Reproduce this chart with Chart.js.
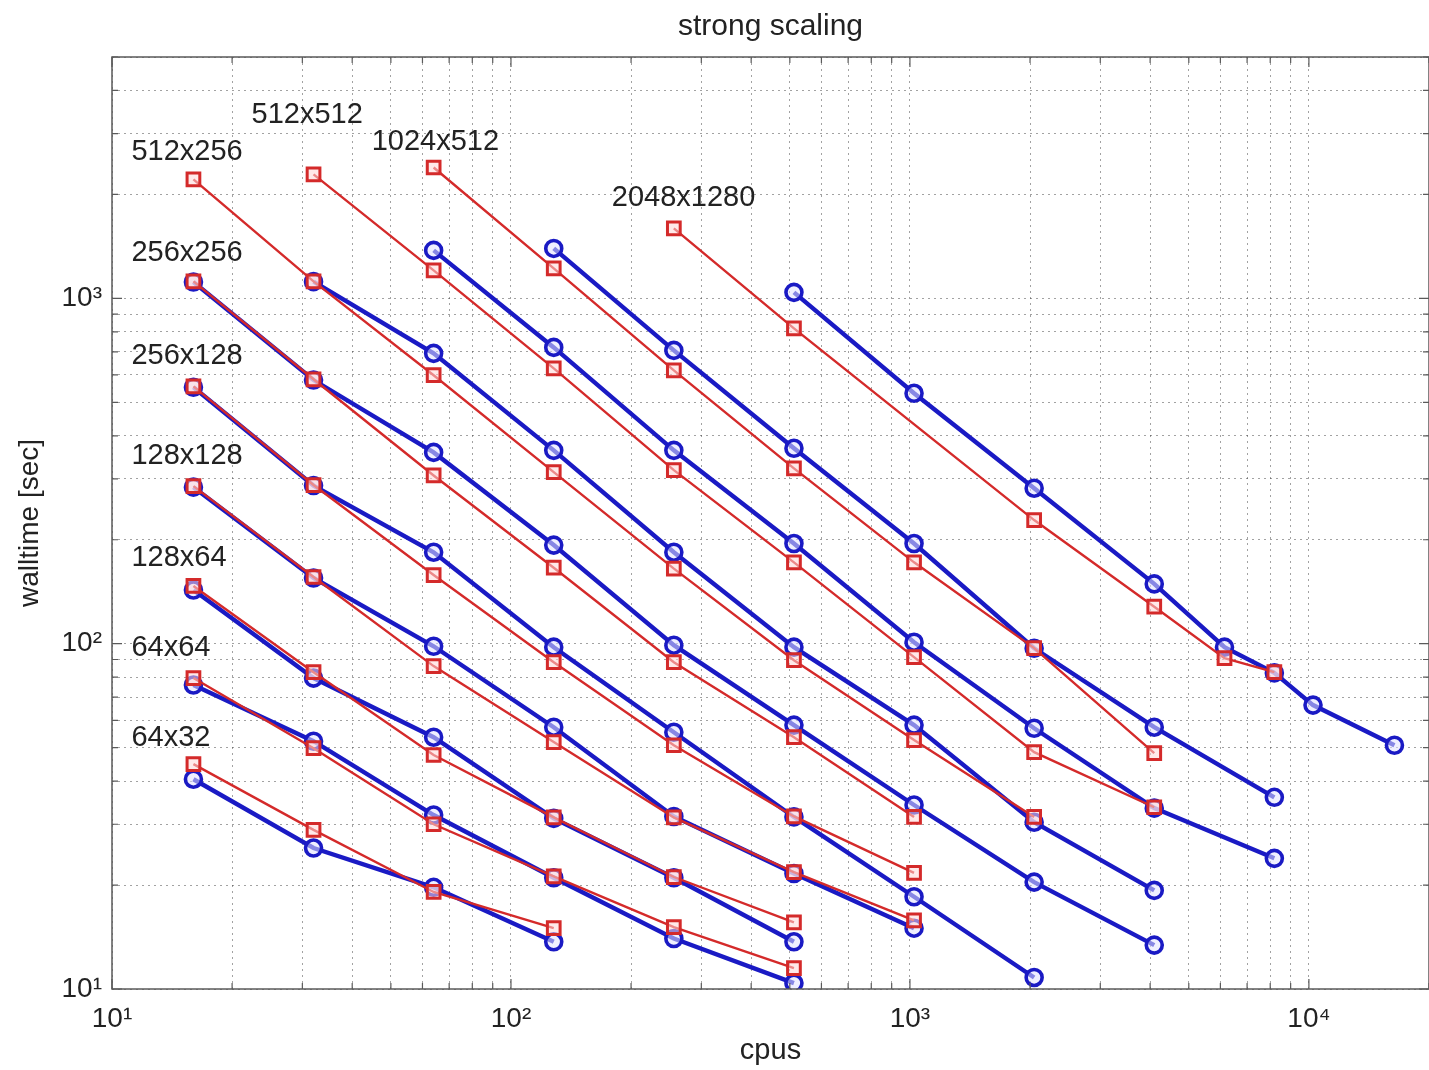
<!DOCTYPE html>
<html>
<head>
<meta charset="utf-8">
<title>strong scaling</title>
<script src="https://cdn.jsdelivr.net/npm/chart.js@4.4.0/dist/chart.umd.min.js"></script>
<style>
    html, body { margin: 0; padding: 0; background: #ffffff; }
    #scalingChart { display: block; }
</style>
</head>
<body>
<canvas id="scalingChart" width="1429" height="1070"></canvas>
<script>
// ============================================
// DATA - walltime per run, one red and one blue run per grid size
// ============================================

const sizeLabels = ['64x32', '64x64', '128x64', '128x128', '256x128', '256x256', '512x256', '512x512', '1024x512', '2048x1280'];

const redCpus = [
    [16, 32, 64, 128],
    [16, 32, 64, 128, 256, 512],
    [16, 32, 64, 128, 256, 512],
    [16, 32, 64, 128, 256, 512, 1024],
    [16, 32, 64, 128, 256, 512, 1024],
    [16, 32, 64, 128, 256, 512, 1024],
    [16, 32, 64, 128, 256, 512, 1024, 2048],
    [32, 64, 128, 256, 512, 1024, 2048, 4096],
    [64, 128, 256, 512, 1024, 2048, 4096],
    [256, 512, 2048, 4096, 6144, 8192]
];

const redTime = [
    [44.8, 28.9, 19.1, 15.0],
    [79.5, 49.8, 30.0, 21.2, 15.1, 11.5],
    [147, 82.7, 47.6, 31.4, 21.1, 15.6],
    [286, 156, 86.1, 51.9, 31.4, 21.8, 15.8],
    [556, 288, 158, 88.4, 50.8, 31.6, 21.7],
    [1120, 583, 307, 166, 88.4, 53.6, 31.5],
    [2210, 1120, 599, 314, 165, 89.6, 52.6, 31.5],
    [2286, 1205, 627, 318, 172, 91.4, 48.5, 33.6],
    [2393, 1221, 619, 322, 172, 97.1, 48.2],
    [1594, 819, 228, 128, 90.8, 82.7]
];

const blueCpus = [
    [16, 32, 64, 128],
    [16, 32, 64, 128, 256, 512],
    [16, 32, 64, 128, 256, 512],
    [16, 32, 64, 128, 256, 512, 1024],
    [16, 32, 64, 128, 256, 512, 1024, 2048],
    [16, 32, 64, 128, 256, 512, 1024, 2048, 4096],
    [32, 64, 128, 256, 512, 1024, 2048, 4096],
    [64, 128, 256, 512, 1024, 2048, 4096, 8192],
    [128, 256, 512, 1024, 2048, 4096, 8192],
    [512, 1024, 2048, 4096, 6144, 8192, 10240, 16384]
];

const blueTime = [
    [40.5, 25.6, 19.7, 13.7],
    [75.9, 52.2, 31.9, 21.0, 14.0, 10.4],
    [143, 79.5, 53.6, 31.2, 21.0, 13.7],
    [284, 155, 98.3, 57.3, 31.6, 21.6, 15.0],
    [553, 287, 184, 97.7, 55.4, 31.5, 18.5, 10.8],
    [1115, 580, 358, 193, 99.0, 58.1, 34.1, 20.4, 13.4],
    [1118, 693, 363, 184, 97.7, 58.1, 30.4, 19.3],
    [1377, 721, 363, 195, 101, 56.9, 33.4, 23.9],
    [1395, 707, 368, 195, 97.0, 57.3, 35.9],
    [1041, 531, 282, 149, 97.7, 82.3, 66.4, 50.8]
];

// axis ranges
const cpuRange = [10, 20000];
const timeRange = [10, 5000];

// how far (px) each size label sits above the first red point
const labelRise = [26, 30, 28, 30, 30, 28, 27, 59, 26, 30];

const FONT = '"Liberation Sans", Arial, Helvetica, sans-serif';
const TEXT_COLOR = '#222222';
const RED = '#d42a2a';
const BLUE = '#1a1ac4';

// ============================================
// HELPERS
// ============================================

const SUPERSCRIPTS = ['⁰', '¹', '²', '³', '⁴', '⁵', '⁶', '⁷', '⁸', '⁹'];

function isDecade(value) {
    const e = Math.log10(value);
    return Math.abs(e - Math.round(e)) < 1e-9;
}

// "10¹", "10²" ... only on the powers of ten
function powerLabel(value) {
    if (!isDecade(value)) return '';
    return '10' + SUPERSCRIPTS[Math.round(Math.log10(value))];
}

// 1..9 x 10^n ticks across the whole range, like a matlab log grid
function decadeTicks(scale) {
    const ticks = [];
    for (let e = 0; e <= 5; e++) {
        for (let m = 1; m <= 9; m++) {
            const v = m * Math.pow(10, e);
            if (v >= scale.min && v <= scale.max) ticks.push({ value: v, major: m === 1 });
        }
    }
    scale.ticks = ticks;
}

// ============================================
// PLUGINS
// ============================================

// Title centred over the plot area rather than the whole canvas
const plotTitle = {
    id: 'plotTitle',
    afterDraw(chart) {
        const { ctx, chartArea: a } = chart;
        ctx.save();
        ctx.font = '30px ' + FONT;
        ctx.fillStyle = TEXT_COLOR;
        ctx.textAlign = 'center';
        ctx.textBaseline = 'middle';
        ctx.fillText('strong scaling', (a.left + a.right) / 2, 27);
        ctx.restore();
    }
};

// Box around the plot area with inward tick marks on all four sides
const axisFrame = {
    id: 'axisFrame',
    afterDraw(chart) {
        const { ctx, chartArea: a, scales } = chart;
        ctx.save();
        ctx.strokeStyle = '#5a5a5a';
        ctx.lineWidth = 1.5;
        ctx.strokeRect(a.left, a.top, a.right - a.left, a.bottom - a.top);

        ctx.lineWidth = 1.2;
        ctx.beginPath();
        scales.x.ticks.forEach(t => {
            const px = scales.x.getPixelForValue(t.value);
            const len = isDecade(t.value) ? 10 : 6;
            ctx.moveTo(px, a.bottom);
            ctx.lineTo(px, a.bottom - len);
            ctx.moveTo(px, a.top);
            ctx.lineTo(px, a.top + len);
        });
        scales.y.ticks.forEach(t => {
            const py = scales.y.getPixelForValue(t.value);
            const len = isDecade(t.value) ? 10 : 6;
            ctx.moveTo(a.left, py);
            ctx.lineTo(a.left + len, py);
            ctx.moveTo(a.right, py);
            ctx.lineTo(a.right - len, py);
        });
        ctx.stroke();
        ctx.restore();
    }
};

// Grid size names written just above the first red point of each run
const sizeNames = {
    id: 'sizeNames',
    afterDraw(chart) {
        const { ctx } = chart;
        ctx.save();
        ctx.font = '29px ' + FONT;
        ctx.fillStyle = TEXT_COLOR;
        ctx.textAlign = 'left';
        ctx.textBaseline = 'middle';
        sizeLabels.forEach((name, i) => {
            const first = chart.getDatasetMeta(i).data[0];
            ctx.fillText(name, first.x - 62, first.y - labelRise[i]);
        });
        ctx.restore();
    }
};

// ============================================
// CHART
// ============================================

function runData(cpus, times) {
    return cpus.map((c, j) => ({ x: c, y: times[j] }));
}

const datasets = [];

// red runs first so their index matches sizeLabels
sizeLabels.forEach((name, i) => {
    datasets.push({
        label: name + ' red',
        data: runData(redCpus[i], redTime[i]),
        showLine: true,
        borderColor: RED,
        borderWidth: 2.4,
        pointStyle: 'rect',
        pointRadius: 9,
        pointBorderWidth: 3,
        pointBorderColor: RED,
        pointBackgroundColor: 'rgba(255, 215, 215, 0.55)',
        order: 1
    });
});

sizeLabels.forEach((name, i) => {
    datasets.push({
        label: name + ' blue',
        data: runData(blueCpus[i], blueTime[i]),
        showLine: true,
        borderColor: BLUE,
        borderWidth: 4.4,
        pointStyle: 'circle',
        pointRadius: 8,
        pointBorderWidth: 3.6,
        pointBorderColor: BLUE,
        pointBackgroundColor: 'rgba(225, 225, 255, 0.55)',
        order: 2
    });
});

const ctx = document.getElementById('scalingChart').getContext('2d');

const scalingChart = new Chart(ctx, {
    type: 'scatter',
    data: { datasets: datasets },
    plugins: [plotTitle, axisFrame, sizeNames],
    options: {
        responsive: false,
        devicePixelRatio: 1,
        animation: false,
        layout: {
            autoPadding: false,
            padding: { top: 57, left: 0, right: 0, bottom: 0 }
        },
        plugins: {
            legend: { display: false },
            tooltip: { enabled: false },
            title: { display: false }
        },
        scales: {
            x: {
                type: 'logarithmic',
                min: cpuRange[0],
                max: cpuRange[1],
                afterBuildTicks: decadeTicks,
                afterFit: scale => {
                    scale.height = 81;
                    scale.paddingRight = 0;
                },
                ticks: {
                    autoSkip: false,
                    maxRotation: 0,
                    padding: 13,
                    color: TEXT_COLOR,
                    font: { family: FONT, size: 28 },
                    callback: powerLabel
                },
                grid: {
                    color: 'rgba(70, 70, 70, 0.5)',
                    lineWidth: 1,
                    drawTicks: false
                },
                border: { display: false, dash: [2, 4] },
                title: {
                    display: true,
                    text: 'cpus',
                    color: TEXT_COLOR,
                    font: { family: FONT, size: 29 },
                    padding: { top: 0, bottom: 2 }
                }
            },
            y: {
                type: 'logarithmic',
                min: timeRange[0],
                max: timeRange[1],
                afterBuildTicks: decadeTicks,
                afterFit: scale => { scale.width = 112; },
                ticks: {
                    autoSkip: false,
                    padding: 10,
                    color: TEXT_COLOR,
                    font: { family: FONT, size: 28 },
                    callback: powerLabel
                },
                grid: {
                    color: 'rgba(70, 70, 70, 0.5)',
                    lineWidth: 1,
                    drawTicks: false
                },
                border: { display: false, dash: [2, 4] },
                title: {
                    display: true,
                    text: 'walltime [sec]',
                    color: TEXT_COLOR,
                    font: { family: FONT, size: 28 },
                    padding: { top: 13, bottom: 0 }
                }
            }
        }
    }
});
</script>
</body>
</html>
